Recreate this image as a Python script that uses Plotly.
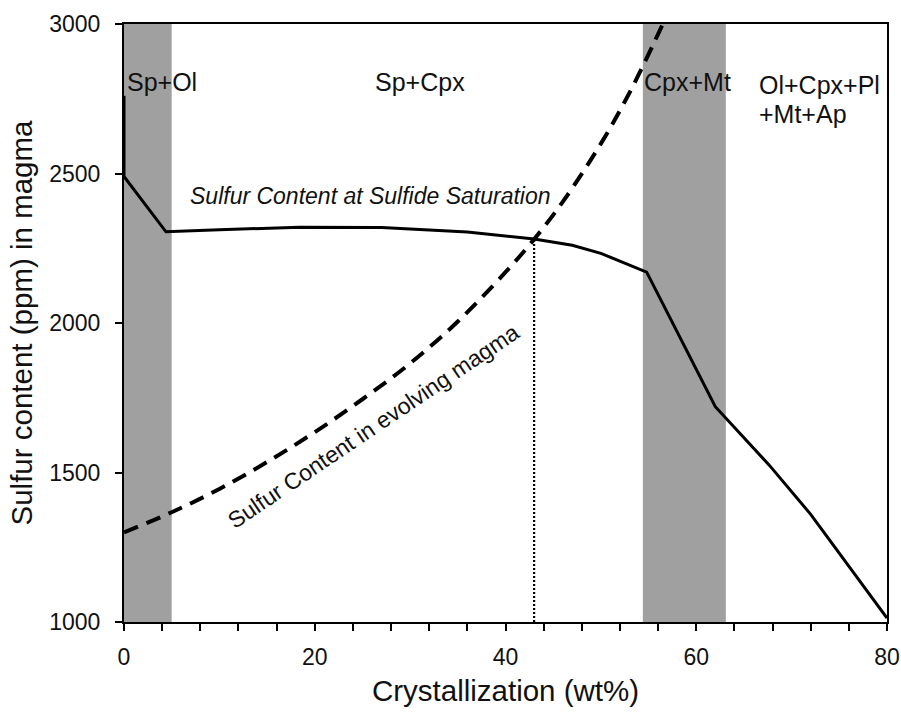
import plotly.graph_objects as go

# Data
sat_x = [0, 0, 4.4, 10, 18.4, 27, 36, 43, 47, 50, 54.8, 62, 67.7, 72, 80]
sat_y = [2760, 2490, 2305, 2312, 2320, 2319, 2304, 2281, 2260, 2233, 2170, 1720, 1523, 1360, 1013]

evo_x = [0, 5, 10, 15, 20, 25, 30, 35, 40, 43, 46, 50, 53, 56.5]
evo_y = [1300, 1367, 1445, 1535, 1635, 1745, 1865, 2005, 2170, 2280, 2405, 2600, 2770, 3000]

sat_point_x = [43, 43]
sat_point_y = [1000, 2281]

band_starts = [0, 54.4]
band_ends = [5, 63.1]

zone_labels = ["Sp+Ol", "Sp+Cpx", "Cpx+Mt"]
zone_x = [4.0, 31.0, 59.1]
zone_y = [2805, 2805, 2805]

x_ticks = [0, 20, 40, 60, 80]
y_ticks = [1000, 1500, 2000, 2500, 3000]

FONT = "Liberation Sans, Arial, sans-serif"

fig = go.Figure()

for s, e in zip(band_starts, band_ends):
    fig.add_shape(type="rect", xref="x", yref="paper", x0=s, x1=e, y0=0, y1=1,
                  fillcolor="#a0a0a0", line=dict(width=0), layer="below")

fig.add_trace(go.Scatter(x=sat_x, y=sat_y, mode="lines",
                         line=dict(color="black", width=3), showlegend=False))
fig.add_trace(go.Scatter(x=evo_x, y=evo_y, mode="lines", line_shape="spline",
                         line=dict(color="black", width=4, dash="15px,9px"), showlegend=False))
fig.add_trace(go.Scatter(x=sat_point_x, y=sat_point_y, mode="lines",
                         line=dict(color="black", width=2.2, dash="2px,2px"), showlegend=False))

for t, x, y in zip(zone_labels, zone_x, zone_y):
    fig.add_annotation(x=x, y=y, text=t, showarrow=False,
                       font=dict(family=FONT, size=25, color="#111"))

fig.add_annotation(x=66.35, y=2795, text="Ol+Cpx+Pl", showarrow=False, xanchor="left",
                   font=dict(family=FONT, size=25, color="#111"))
fig.add_annotation(x=66.35, y=2700, text="+Mt+Ap", showarrow=False, xanchor="left",
                   font=dict(family=FONT, size=25, color="#111"))

fig.add_annotation(x=25.8, y=2426, text="<i>Sulfur Content at Sulfide Saturation</i>",
                   showarrow=False, font=dict(family=FONT, size=23, color="#111"))
fig.add_annotation(x=26.2, y=1654, text="Sulfur Content in evolving magma",
                   showarrow=False, textangle=-34, font=dict(family=FONT, size=23, color="#111"))

fig.update_layout(
    width=901, height=714,
    margin=dict(l=124, r=14, t=24, b=92),
    plot_bgcolor="white", paper_bgcolor="white",
    font=dict(family=FONT, color="#111"),
    showlegend=False,
)
fig.update_xaxes(
    range=[0, 80], tickvals=x_ticks, ticktext=[str(v) for v in x_ticks],
    automargin=False,
    showgrid=False, zeroline=False, showline=True, linecolor="black", linewidth=2,
    mirror=True, ticks="outside", ticklen=7, tickwidth=2, tickcolor="black",
    minor=dict(dtick=4, ticks="outside", ticklen=7, tickwidth=2, tickcolor="black", showgrid=False),
    tickfont=dict(family=FONT, size=23, color="#111"), ticklabelstandoff=6,
    title=dict(text="Crystallization (wt%)", font=dict(family=FONT, size=29.5, color="#111"), standoff=12),
)
fig.update_yaxes(
    range=[1000, 3000], tickvals=y_ticks, ticktext=[str(v) for v in y_ticks],
    automargin=False,
    showgrid=False, zeroline=False, showline=True, linecolor="black", linewidth=2,
    mirror=True, ticks="outside", ticklen=7, tickwidth=2, tickcolor="black",
    tickfont=dict(family=FONT, size=23, color="#111"), ticklabelstandoff=10,
    title=dict(text="Sulfur content (ppm) in magma", font=dict(family=FONT, size=29.5, color="#111"), standoff=8),
)

fig.write_html("out.html")
